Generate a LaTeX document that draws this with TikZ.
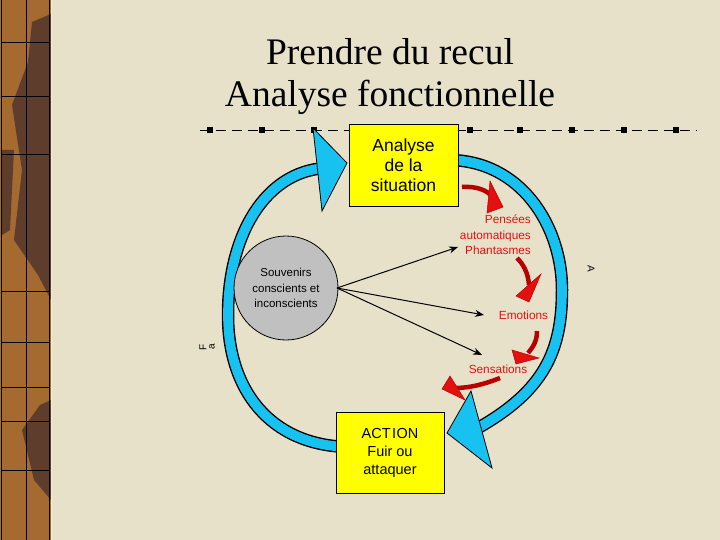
\documentclass[tikz,border=0pt]{standalone}
\usepackage{fontspec}
\setmainfont{Liberation Serif}
\newfontfamily\arialf{Liberation Sans}
\usetikzlibrary{arrows.meta}
\definecolor{bgc}{HTML}{E8E1CA}
\definecolor{bandc}{HTML}{A46A30}
\definecolor{darkb}{HTML}{5E3D2C}
\definecolor{cyanc}{HTML}{18C2F0}
\definecolor{yel}{HTML}{FFFF00}
\definecolor{greyc}{HTML}{C0C0C0}
\definecolor{redc}{HTML}{E41010}
\definecolor{dred}{HTML}{B80000}
\tikzset{
  ybox/.style={draw=black, line width=0.7pt, fill=yel, align=center, font=\arialf\fontsize{17.5}{20}\selectfont},
  rtext/.style={text=redc, font=\arialf\fontsize{11.8}{15.5}\selectfont, inner sep=0pt},
  band/.style={line width=12.5pt, draw=black},
  bandin/.style={line width=9.7pt, draw=cyanc},
  bhead/.style={fill=cyanc, draw=black, line width=0.8pt, line join=miter},
  rtail/.style={line width=4.5pt, draw=dred, line cap=butt},
  rhead/.style={fill=redc, draw=dred, line width=0.5pt},
  barrow/.style={line width=1pt, -{Stealth[length=9pt,width=7pt]}}
}
\begin{document}
\begin{tikzpicture}[x=1pt,y=-1pt]
\useasboundingbox (0,0) rectangle (720,540);
\fill[bgc] (0,0) rectangle (720,540);
% left band
\fill[bandc] (0,0) rectangle (51,540);
\fill[darkb] (32,22) -- (51,14) -- (51,300) -- (38,275) -- (14,240) -- (22,170) -- (12,105) -- (28,62) -- cycle;
\fill[darkb] (22,430) -- (40,405) -- (51,400) -- (51,500) -- (34,480) -- (28,455) -- cycle;
\fill[darkb] (2,150) -- (14,150) -- (10,230) -- (2,235) -- cycle;
\draw[line width=1pt] (1.5,0) -- (1.5,540);
\draw[line width=0.8pt] (26,0) -- (26,540);
\draw[line width=1pt] (49.5,0) -- (49.5,540);
\draw[line width=1pt, bgc!60!white] (51.5,0) -- (51.5,540);
\foreach \yy in {42,96,154,291,342,387,421,470}
  \draw[line width=0.8pt] (1.5,\yy) -- (49.5,\yy);
% title
\node[font=\fontsize{37.5}{45}\selectfont] (t1) at (390,52) {Prendre du recul};
\node[font=\fontsize{37.5}{45}\selectfont] (t2) at (390,97) {Analyse fonctionnelle};
% dashed rule
\draw[line width=0.8pt, dash pattern=on 10pt off 6pt] (200,130) -- (697,130);
\foreach \xx in {210,262,314,470,520,572,624,676}
  \fill (\xx-2.8,127.2) rectangle +(5.6,5.6);
% blue arcs
\coordinate (la0) at (348,447);
\coordinate (la1) at (325,168);
\coordinate (ra0) at (448,160);
\coordinate (ra1) at (478,428);
\draw[band] (la0) .. controls (270,445) and (228,390) .. (228,315) .. controls (228,235) and (265,172) .. (la1);
\draw[bandin] (la0) .. controls (270,445) and (228,390) .. (228,315) .. controls (228,235) and (265,172) .. (la1);
\draw[band] (ra0) .. controls (520,160) and (562,225) .. (562,290) .. controls (562,350) and (545,390) .. (ra1);
\draw[bandin] (ra0) .. controls (520,160) and (562,225) .. (562,290) .. controls (562,350) and (545,390) .. (ra1);
\draw[bhead] (313,128) -- (347,163) -- (322,211) -- cycle;
\draw[bhead] (471,391) -- (447,433) -- (492,468) -- cycle;
% boxes
\node[ybox, minimum width=109pt, minimum height=82pt] (an) at (403.5,165.5) {Analyse\\de la\\situation};
\node[ybox, font=\arialf\fontsize{14.5}{18}\selectfont, minimum width=108pt, minimum height=81pt] (ac) at (390,452.5) {ACT\kern1.5pt I\kern0.5pt ON\\Fuir ou\\attaquer};
% circle
\node[circle, draw=black, line width=0.8pt, fill=greyc, minimum size=104pt, align=center,
      font=\arialf\fontsize{11.5}{15.5}\selectfont, inner sep=0pt] (sv) at (286,288) {Souvenirs\\conscients et\\inconscients};
\coordinate (hub) at (337,288);
% red labels
\node[rtext, align=right, anchor=east] (pa) at (531,235) {Pensées\\automatiques\\Phantasmes};
\node[rtext] (em) at (523.5,315) {Emotions};
\node[rtext] (se) at (498,369) {Sensations};
% black arrows
\coordinate (e1) at (458,247);
\coordinate (e2) at (484,315);
\coordinate (e3) at (482,355);
\draw[barrow] (hub) -- (e1);
\draw[barrow] (hub) -- (e2);
\draw[barrow] (hub) -- (e3);
% red curved arrows
\draw[rtail] (462,187) .. controls (476,186) and (488,190) .. (493,198);
\draw[rhead] (490,181) -- (503,207) -- (487,213) -- cycle;
\draw[rtail] (517,258) .. controls (523,264) and (528,272) .. (529,285);
\draw[rhead] (541,274) -- (529,302) -- (516,296) -- cycle;
\draw[rtail] (537,331) .. controls (537,340) and (534,346) .. (528,353);
\draw[rhead] (512,350) -- (539,358) -- (516,364) -- cycle;
\draw[rtail] (500,378) .. controls (485,384) and (470,388) .. (455,388);
\draw[rhead] (442,389) -- (450,376) -- (465,400) -- cycle;
% side letters
\node[font=\arialf\fontsize{10}{10}\selectfont, rotate=-90, inner sep=0pt] (la) at (591,269) {A};
\node[font=\arialf\fontsize{10}{10}\selectfont, rotate=90, inner sep=0pt] (lf) at (203,347) {F};
\node[font=\arialf\fontsize{10}{10}\selectfont, rotate=90, inner sep=0pt] (lb) at (212,347) {a};
\end{tikzpicture}
\end{document}
